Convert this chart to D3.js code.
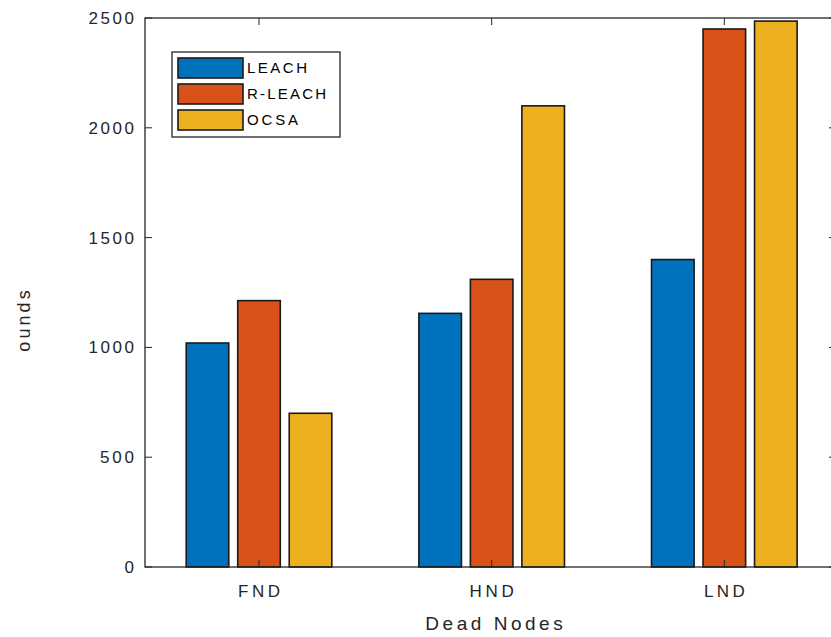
<!DOCTYPE html>
<html>
<head>
<meta charset="utf-8">
<script src="https://cdn.jsdelivr.net/npm/d3@7"></script>
<style>
  html, body { margin: 0; padding: 0; background: #fff; }
  svg { display: block; }
  text { font-family: "Liberation Sans", Arial, Helvetica, sans-serif; fill: #262626; }
</style>
</head>
<body>
<svg id="chart" width="831" height="637"></svg>
<script>
const categories = ["FND", "HND", "LND"];
const seriesNames = ["LEACH", "R-LEACH", "OCSA"];
const leach = [1020, 1155, 1400];
const rleach = [1213, 1310, 2450];
const ocsa = [700, 2100, 2486];
const yTicks = [0, 500, 1000, 1500, 2000, 2500];
const colors = ["#0072BD", "#D95319", "#EDB120"];
const seriesValues = [leach, rleach, ocsa];

const svg = d3.select("#chart");
const pLeft = 145, pRight = 836, pTop = 18, pBottom = 567;

const x = d3.scaleLinear().domain([0.51, 3.48]).range([pLeft, pRight]);
const y = d3.scaleLinear().domain([0, 2500]).range([pBottom, pTop]);

const offset = 0.2214, barW = 0.183;

// widen text spacing (reference font is rendered with loose tracking)
function spread(sel, k) {
  sel.each(function () {
    const w = this.getComputedTextLength();
    if (this.textContent.length > 1) {
      d3.select(this).attr("textLength", w * k).attr("lengthAdjust", "spacing");
    }
  });
}

// bars
const g = svg.append("g");
seriesValues.forEach((vals, s) => {
  g.selectAll(null).data(vals).enter().append("rect")
    .attr("x", (d, i) => x(i + 1 + (s - 1) * offset - barW / 2))
    .attr("width", x(barW) - x(0))
    .attr("y", d => y(d))
    .attr("height", d => y(0) - y(d))
    .attr("fill", colors[s])
    .attr("stroke", "#1a1a1a")
    .attr("stroke-width", 1.6);
});

// axes (MATLAB-like, inward ticks, box on)
const tickLen = 7;
const axisColor = "#262626";
const ax = svg.append("g");
ax.append("rect").attr("x", pLeft).attr("y", pTop).attr("width", pRight - pLeft).attr("height", pBottom - pTop)
  .attr("fill", "none").attr("stroke", axisColor).attr("stroke-width", 1.3);

yTicks.forEach(t => {
  ax.append("line").attr("x1", pLeft).attr("x2", pLeft + tickLen).attr("y1", y(t)).attr("y2", y(t))
    .attr("stroke", axisColor).attr("stroke-width", 1);
  ax.append("line").attr("x1", pRight).attr("x2", pRight - tickLen).attr("y1", y(t)).attr("y2", y(t))
    .attr("stroke", axisColor).attr("stroke-width", 1);
  ax.append("text").attr("class", "ytl").attr("x", pLeft - 11).attr("y", y(t)).attr("dy", "0.35em")
    .attr("text-anchor", "end").attr("font-size", 17).text(t);
});
spread(ax.selectAll(".ytl"), 1.2);

categories.forEach((c, i) => {
  const cx = x(i + 1);
  ax.append("line").attr("x1", cx).attr("x2", cx).attr("y1", pBottom).attr("y2", pBottom - tickLen)
    .attr("stroke", axisColor).attr("stroke-width", 1);
  ax.append("line").attr("x1", cx).attr("x2", cx).attr("y1", pTop).attr("y2", pTop + tickLen)
    .attr("stroke", axisColor).attr("stroke-width", 1);
  ax.append("text").attr("class", "xtl").attr("x", cx).attr("y", 597)
    .attr("text-anchor", "middle").attr("font-size", 17).text(c);
});
spread(ax.selectAll(".xtl"), 1.2);

// axis labels
const xl = svg.append("text").attr("x", 494).attr("y", 630).attr("text-anchor", "middle")
  .attr("font-size", 19).text("Dead Nodes");
spread(xl, 1.3);
const yl = svg.append("text").attr("transform", "translate(30,321) rotate(-90)")
  .attr("text-anchor", "middle").attr("font-size", 18).text("ounds");
spread(yl, 1.25);

// legend
const lg = svg.append("g");
lg.append("rect").attr("x", 172).attr("y", 52).attr("width", 168).attr("height", 85)
  .attr("fill", "#fff").attr("stroke", "#333").attr("stroke-width", 1.4);
seriesNames.forEach((n, i) => {
  const yy = 58 + i * 26;
  lg.append("rect").attr("x", 178).attr("y", yy).attr("width", 65).attr("height", 20)
    .attr("fill", colors[i]).attr("stroke", "#1a1a1a").attr("stroke-width", 1.6);
  lg.append("text").attr("class", "lgt").attr("x", 247).attr("y", yy + 10).attr("dy", "0.36em")
    .attr("font-size", 15).style("fill", "#000").text(n);
});
spread(lg.selectAll(".lgt"), 1.2);
</script>
</body>
</html>
